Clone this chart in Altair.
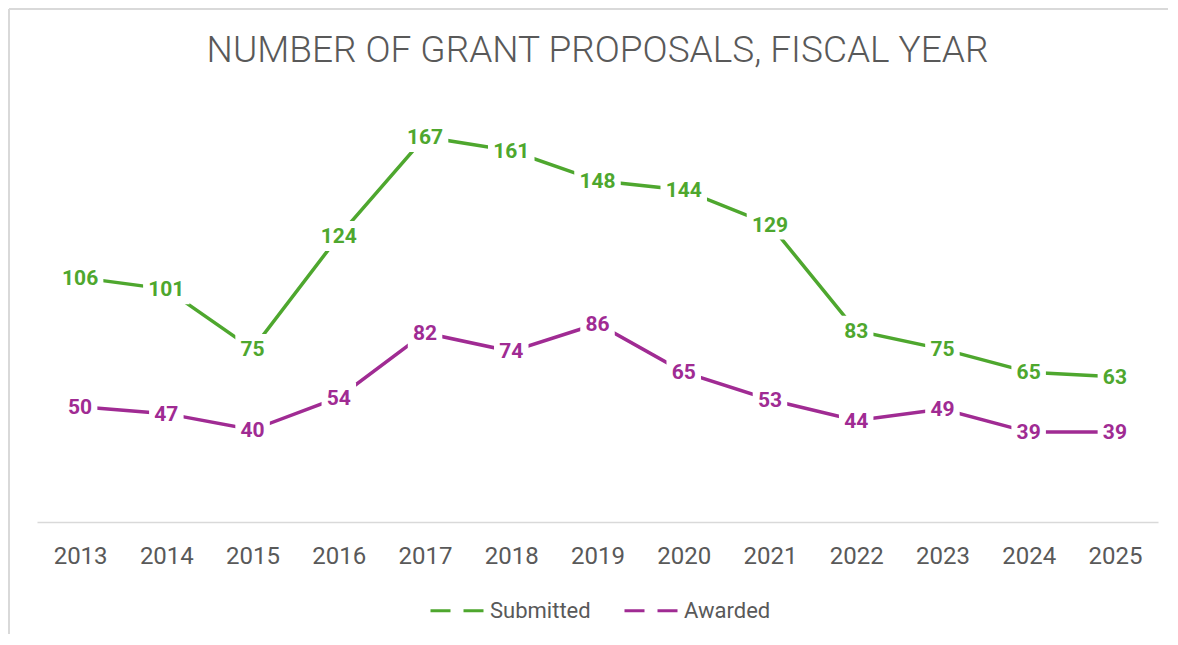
import altair as alt
import pandas as pd

years = ["2013", "2014", "2015", "2016", "2017", "2018", "2019",
         "2020", "2021", "2022", "2023", "2024", "2025"]
submitted = [106, 101, 75, 124, 167, 161, 148, 144, 129, 83, 75, 65, 63]
awarded = [50, 47, 40, 54, 82, 74, 86, 65, 53, 44, 49, 39, 39]
series_names = ["Submitted", "Awarded"]
title_text = "NUMBER OF GRANT PROPOSALS, FISCAL YEAR"

GREEN = "#4EA72E"
PURPLE = "#A02B93"
GRAY = "#595959"
FONT = "Roboto"

rows = []
for s, vals in zip(series_names, [submitted, awarded]):
    for y, v in zip(years, vals):
        rows.append({"year": y, "value": v, "series": s})
df = pd.DataFrame(rows)

W, H = 1121, 415
PAD = {"left": 29, "top": 99, "right": 10, "bottom": 112}

x_enc = alt.X(
    "year:O",
    sort=years,
    scale=alt.Scale(padding=0.5),
    axis=alt.Axis(
        title=None, labelAngle=0, ticks=False, grid=False,
        domainColor="#D9D9D9", domainWidth=1.5,
        labelFontSize=24, labelColor=GRAY, labelFont=FONT,
        labelPadding=22,
    ),
)
y_enc = alt.Y("value:Q", scale=alt.Scale(domain=[0, 180]), axis=None)
color_enc = alt.Color(
    "series:N",
    scale=alt.Scale(domain=series_names, range=[GREEN, PURPLE]),
    legend=alt.Legend(
        title=None, orient="none", direction="horizontal",
        legendX=392, legendY=475,
        symbolType="stroke", symbolStrokeWidth=3, symbolDash=[20, 13],
        symbolSize=2916, labelFontSize=22, labelColor=GRAY, labelFont=FONT,
        labelOffset=4, columnPadding=27, padding=0,
    ),
)

base = alt.Chart(df)

lines = base.mark_line(strokeWidth=3.5, strokeCap="butt").encode(
    x=x_enc, y=y_enc, color=color_enc, detail="series:N"
)

boxes = base.transform_calculate(
    shp="length(toString(datum.value)) > 2 ? 'M-1.55,-1L1.55,-1L1.55,1L-1.55,1Z' : 'M-1.15,-1L1.15,-1L1.15,1L-1.15,1Z'"
).mark_point(filled=True, fill="white", opacity=1, strokeWidth=0, size=900).encode(
    x=x_enc, y=y_enc, shape=alt.Shape("shp:N", scale=None, legend=None)
)

labels = base.mark_text(
    fontSize=21, fontWeight="bold", font=FONT, baseline="middle", align="center", dy=1
).encode(
    x=x_enc, y=y_enc, text="value:Q",
    color=alt.Color("series:N", scale=alt.Scale(domain=series_names, range=[GREEN, PURPLE]), legend=None),
)

title = alt.Chart(pd.DataFrame({"t": [title_text]})).mark_text(
    fontSize=37, font=FONT, fontWeight=300, color=GRAY,
    align="center", baseline="alphabetic",
).encode(text="t:N", x=alt.value(W / 2), y=alt.value(-45))

left_border = alt.Chart(df).mark_rule(color="#D9D9D9", strokeWidth=2).encode(
    x=alt.value(-28), y=alt.value(-98), y2=alt.value(H + PAD["bottom"])
)
top_border = alt.Chart(df).mark_rule(color="#D9D9D9", strokeWidth=2).encode(
    x=alt.value(-28), x2=alt.value(W + PAD["right"]), y=alt.value(-98)
)

chart = alt.layer(left_border, top_border, title, lines, boxes, labels).properties(
    width=W, height=H,
    padding=PAD,
    autosize=alt.AutoSizeParams(type="none"),
).configure_view(stroke=None)

chart.save("out.html", embed_options={"renderer": "svg", "actions": False})
